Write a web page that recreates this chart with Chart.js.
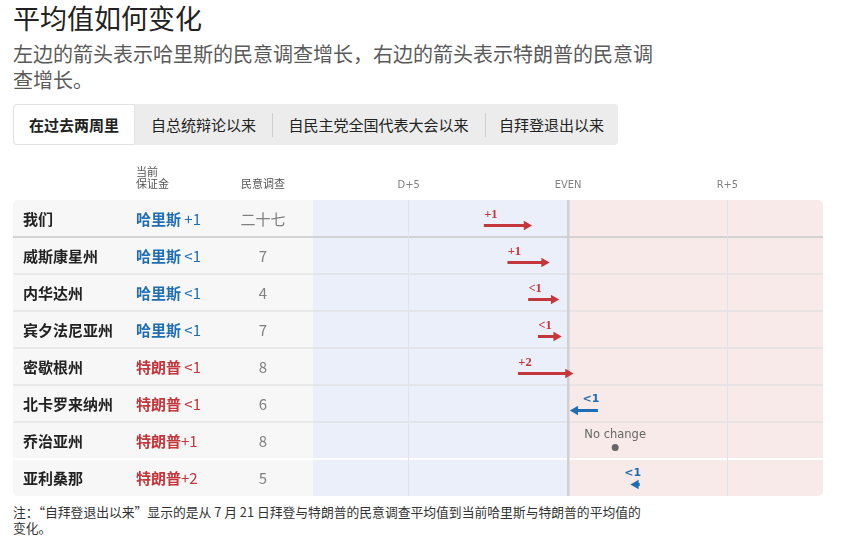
<!DOCTYPE html>
<html>
<head>
<meta charset="utf-8">
<script src="https://cdn.jsdelivr.net/npm/chart.js@4.4.1/dist/chart.umd.min.js"></script>
<style>
  body { margin: 0; background: #fff; font-family: "Noto Sans CJK SC", "Noto Sans", sans-serif; color: #222; }
  #title { position: absolute; left: 13px; top: 3px; font-size: 27px; line-height: 30px; color: #222; }
  #sub { position: absolute; left: 13px; top: 41px; font-size: 20px; line-height: 26px; color: #5a5a5a; white-space: nowrap; }
  #tabs { position: absolute; left: 13px; top: 104px; width: 605px; height: 41px; background: #ececec; border-radius: 4px; display: flex; }
  .tab { height: 41px; line-height: 41px; font-size: 15px; text-align: center; color: #222; box-sizing: border-box; position: relative; }
  .tab.active { background: #fff; font-weight: bold; border: 1px solid #e2e2e2; border-radius: 4px 0 0 4px; line-height: 39px; }
  .tab.sep::before { content: ""; position: absolute; left: 0; top: 9px; height: 24px; border-left: 1px solid #cfcfcf; }
  #chart { position: absolute; left: 13px; top: 160px; }
  #note { position: absolute; left: 13px; top: 504px; font-size: 12.8px; line-height: 16px; color: #333; white-space: nowrap; }
</style>
</head>
<body>
<div id="title">平均值如何变化</div>
<div id="sub">左边的箭头表示哈里斯的民意调查增长，右边的箭头表示特朗普的民意调<br>查增长。</div>
<div id="tabs">
  <div class="tab active" style="width:122px">在过去两周里</div>
  <div class="tab" style="width:137px">自总统辩论以来</div>
  <div class="tab sep" style="width:213px">自民主党全国代表大会以来</div>
  <div class="tab sep" style="width:133px">自拜登退出以来</div>
</div>
<canvas id="chart" width="810" height="336"></canvas>
<div id="note">注：“自拜登退出以来”显示的是从 7 月 21 日拜登与特朗普的民意调查平均值到当前哈里斯与特朗普的平均值的<br>变化。</div>

<script>
// rows, top to bottom
const states = ["我们", "威斯康星州", "内华达州", "宾夕法尼亚州", "密歇根州", "北卡罗来纳州", "乔治亚州", "亚利桑那"];
const leaders = ["哈里斯", "哈里斯", "哈里斯", "哈里斯", "特朗普", "特朗普", "特朗普", "特朗普"];
const margins = [" +1", " <1", " <1", " <1", " <1", " <1", "+1", "+2"];
const polls = ["二十七", "7", "4", "7", "8", "6", "8", "5"];

// negative = Harris ahead, positive = Trump ahead
const startMargin = [-2.64, -1.90, -1.25, -0.94, -1.57, 0.94, 1.48, 2.25];
const endMargin = [-1.30, -0.75, -0.45, -0.37, 0.0, 0.23, 1.48, 2.13];
const changeLabels = ["+1", "+1", "<1", "<1", "+2", "<1", "No change", "<1"];

const xTickValues = [-5, 0, 5];
const xTickLabels = ["D+5", "EVEN", "R+5"];

const RED = "#c3363b";
const BLUE = "#1f6db2";
const GREY = "#666";

const datasets = states.map((s, i) => {
  const a = startMargin[i], b = endMargin[i];
  const same = a === b;
  const color = same ? GREY : (b > a ? RED : BLUE);
  return {
    data: same ? [{ x: b, y: s }] : [{ x: a, y: s }, { x: b, y: s }],
    showLine: !same,
    borderColor: color,
    backgroundColor: color,
    borderWidth: 3,
    borderCapStyle: "butt",
    pointRadius: same ? [3.5] : [0, 5.5],
    pointHoverRadius: same ? [3.5] : [0, 5.5],
    pointStyle: same ? "circle" : "triangle",
    pointRotation: b > a ? 90 : -90,
    pointBorderWidth: 0
  };
});

const tablePlugin = {
  id: "table",
  beforeDraw(chart) {
    const { ctx, chartArea, scales } = chart;
    const xs = scales.x, ys = scales.y;
    const top = chartArea.top, bottom = chartArea.bottom;
    const zero = xs.getPixelForValue(0);

    ctx.save();
    ctx.beginPath();
    ctx.roundRect(0, top, chartArea.right, bottom - top, 5);
    ctx.clip();
    ctx.fillStyle = "#f7f7f7";
    ctx.fillRect(0, top, chartArea.left, bottom - top);
    ctx.fillStyle = "#ebeff9";
    ctx.fillRect(chartArea.left, top, zero - chartArea.left, bottom - top);
    ctx.fillStyle = "#f9eaea";
    ctx.fillRect(zero, top, chartArea.right - zero, bottom - top);

    // row separators
    for (let i = 1; i < states.length; i++) {
      const yy = (ys.getPixelForValue(i - 1) + ys.getPixelForValue(i)) / 2;
      ctx.beginPath();
      ctx.moveTo(0, yy);
      ctx.lineTo(chartArea.right, yy);
      if (i === 1) { ctx.strokeStyle = "#c9c9c9"; ctx.lineWidth = 1.5; }
      else if (i === 7) { ctx.strokeStyle = "#ffffff"; ctx.lineWidth = 2; }
      else { ctx.strokeStyle = "#dcdcdc"; ctx.lineWidth = 1.2; }
      ctx.stroke();
    }
    ctx.restore();

    // column headers
    ctx.save();
    ctx.textBaseline = "middle";
    ctx.fillStyle = "#555";
    ctx.font = '11px "Noto Sans CJK SC", sans-serif';
    ctx.textAlign = "left";
    ctx.fillText("当前", 123, 12);
    ctx.fillText("保证金", 123, 24);
    ctx.textAlign = "center";
    ctx.fillText("民意调查", 250, 24);

    // rows
    states.forEach((s, i) => {
      const cy = ys.getPixelForValue(i) + 1;
      ctx.textAlign = "left";
      ctx.fillStyle = "#222";
      ctx.font = 'bold 15px "Noto Sans CJK SC", sans-serif';
      ctx.fillText(s, 10, cy);

      const col = leaders[i] === "哈里斯" ? BLUE : RED;
      ctx.fillStyle = col;
      ctx.font = 'bold 15px "Noto Sans CJK SC", sans-serif';
      ctx.fillText(leaders[i], 123, cy);
      const w = ctx.measureText(leaders[i]).width;
      ctx.font = '15px "Noto Sans CJK SC", sans-serif';
      ctx.fillText(margins[i], 123 + w, cy);

      ctx.textAlign = "center";
      ctx.fillStyle = "#808080";
      ctx.font = '15px "Noto Sans CJK SC", sans-serif';
      ctx.fillText(polls[i], 250, cy);
    });
    ctx.restore();
  },
  beforeDatasetsDraw(chart) {
    chart.ctx.save();
    chart.ctx.translate(0, 7);
  },
  afterDatasetsDraw(chart) {
    const { ctx, scales } = chart;
    ctx.restore();
    const xs = scales.x, ys = scales.y;
    ctx.save();
    ctx.textBaseline = "middle";
    ctx.textAlign = "center";
    states.forEach((s, i) => {
      const a = startMargin[i], b = endMargin[i];
      const cy = ys.getPixelForValue(i) - 4;
      if (a === b) {
        ctx.fillStyle = GREY;
        ctx.font = '11.5px "DejaVu Sans", sans-serif';
        ctx.fillText(changeLabels[i], xs.getPixelForValue(b), cy - 1);
      } else if (b > a) {
        ctx.fillStyle = RED;
        ctx.font = 'bold 12.5px "Liberation Serif", serif';
        ctx.fillText(changeLabels[i], xs.getPixelForValue(a) + 7, cy);
      } else {
        ctx.fillStyle = BLUE;
        ctx.font = 'bold 11px "DejaVu Sans", sans-serif';
        ctx.fillText(changeLabels[i], xs.getPixelForValue(a) - 7, cy);
      }
    });
    ctx.restore();
  }
};

new Chart(document.getElementById("chart"), {
  type: "scatter",
  data: { datasets },
  options: {
    responsive: false,
    animation: false,
    devicePixelRatio: 1,
    events: [],
    layout: { autoPadding: false, padding: { left: 300, right: 0, top: 0, bottom: 0 } },
    plugins: { legend: { display: false }, tooltip: { enabled: false } },
    scales: {
      x: {
        type: "linear",
        position: "top",
        min: -8,
        max: 8,
        afterBuildTicks: (scale) => { scale.ticks = xTickValues.map((v) => ({ value: v })); },
        afterFit: (scale) => { scale.height = 40; },
        border: { display: false },
        grid: {
          drawTicks: false,
          color: (c) => (c.tick && c.tick.value === 0 ? "#cfcfd4" : "#e2e2e7"),
          lineWidth: (c) => (c.tick && c.tick.value === 0 ? 2.5 : 1)
        },
        ticks: {
          padding: 8,
          color: "#808080",
          font: { family: '"Liberation Sans Narrow", "DejaVu Sans Condensed", sans-serif', size: 11 },
          callback: (v) => xTickLabels[xTickValues.indexOf(v)]
        }
      },
      y: {
        type: "category",
        labels: states,
        offset: true,
        display: false
      }
    }
  },
  plugins: [tablePlugin]
});
</script>
</body>
</html>
